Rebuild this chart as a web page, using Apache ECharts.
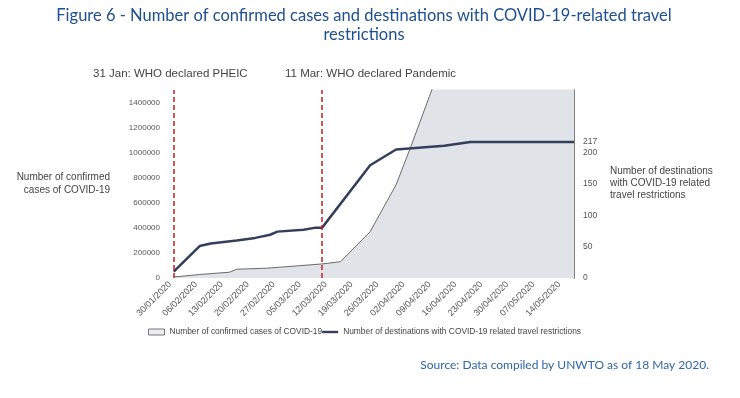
<!DOCTYPE html>
<html>
<head>
<meta charset="utf-8">
<script src="https://cdn.jsdelivr.net/npm/echarts@6/dist/echarts.min.js"></script>
<style>
  html, body { margin: 0; padding: 0; background: #ffffff; }
  #chart { width: 740px; height: 398px; }
</style>
</head>
<body>
<div id="chart"></div>
<script>
// ---- Data ----
const startDate = '2020-01-30';
const endDate = '2020-05-18';

const xTickLabels = ['30/01/2020','06/02/2020','13/02/2020','20/02/2020','27/02/2020','05/03/2020','12/03/2020',
  '19/03/2020','26/03/2020','02/04/2020','09/04/2020','16/04/2020','23/04/2020','30/04/2020','07/05/2020','14/05/2020'];

const caseDates = ['2020-01-31','2020-02-07','2020-02-15','2020-02-17','2020-02-25','2020-03-11','2020-03-16',
  '2020-03-24','2020-03-31','2020-04-04','2020-04-09','2020-04-16','2020-04-23','2020-04-30','2020-05-07','2020-05-14','2020-05-18'];
const caseValues = [8000, 28000, 46000, 70000, 78000, 112000, 130000,
  370000, 744000, 1050000, 1450000, 2000000, 2550000, 3100000, 3700000, 4250000, 4600000];

const destDates = ['2020-01-31','2020-02-07','2020-02-10','2020-02-17','2020-02-22','2020-02-26','2020-02-28',
  '2020-03-06','2020-03-09','2020-03-11','2020-03-24','2020-03-31','2020-04-13','2020-04-20','2020-05-18'];
const destValues = [10, 51, 55, 60, 64, 69, 74, 77, 80, 80, 180, 205, 211, 217, 217];

const leftTicks = [0, 200000, 400000, 600000, 800000, 1000000, 1200000, 1400000];
const rightTicks = [0, 50, 100, 150, 200, 217];

const eventDates = ['2020-01-31', '2020-03-11'];
const eventLabels = ['31 Jan: WHO declared PHEIC', '11 Mar: WHO declared Pandemic'];

const seriesNames = ['Number of confirmed cases of COVID-19', 'Number of destinations with COVID-19 related travel restrictions'];

// ---- helpers ----
const DAY = 86400000;
function isoToDay(s) {
  const p = s.split('-').map(Number);
  const q = startDate.split('-').map(Number);
  return Math.round((Date.UTC(p[0], p[1]-1, p[2]) - Date.UTC(q[0], q[1]-1, q[2])) / DAY);
}
function labelToDay(s) {
  const p = s.split('/');
  return isoToDay(p[2] + '-' + p[1] + '-' + p[0]);
}
const tickDays = xTickLabels.map(labelToDay);
const dayToLabel = {};
tickDays.forEach((d, i) => { dayToLabel[d] = xTickLabels[i]; });

const caseData = caseDates.map((d, i) => [isoToDay(d), caseValues[i]]);
const destData = destDates.map((d, i) => [isoToDay(d), destValues[i]]);

const chart = echarts.init(document.getElementById('chart'));
const axisFont = 'Liberation Sans, Arial, sans-serif';

chart.setOption({
  animation: false,
  backgroundColor: '#ffffff',
  grid: { left: 170, right: 166, top: 90, bottom: 120, containLabel: false },
  legend: {
    left: 148, top: 328, padding: 0,
    itemWidth: 16, itemHeight: 6, itemGap: 0,
    textStyle: { fontFamily: axisFont, fontSize: 8.4, color: '#444' },
    data: [
      { name: seriesNames[0], icon: 'rect', itemStyle: { color: '#eceef1', borderColor: '#777', borderWidth: 1 } },
      { name: seriesNames[1], icon: 'path://M0,0 L20,0 L20,3 L0,3 Z', itemStyle: { color: '#34405a' } }
    ]
  },
  xAxis: {
    type: 'value',
    min: 0,
    max: isoToDay(endDate),
    axisLine: { show: false },
    axisTick: { show: false },
    splitLine: { show: false },
    axisLabel: {
      customValues: tickDays,
      rotate: 45,
      margin: 5,
      fontFamily: axisFont,
      fontSize: 9,
      color: '#555',
      formatter: v => dayToLabel[v] || ''
    }
  },
  yAxis: [
    {
      type: 'value', min: 0, max: 1500000,
      axisLine: { show: false }, axisTick: { show: false }, splitLine: { show: false },
      axisLabel: { customValues: leftTicks, fontFamily: axisFont, fontSize: 8, color: '#555', margin: 10, formatter: v => String(v) }
    },
    {
      type: 'value', min: 0, max: 300, position: 'right',
      axisLine: { show: true, lineStyle: { color: '#555', width: 1.5 } },
      axisTick: { show: false }, splitLine: { show: false },
      axisLabel: {
        customValues: rightTicks, fontFamily: axisFont, fontSize: 8.5, margin: 9,
        color: v => (v === 217 ? '#333' : '#555')
      }
    }
  ],
  series: [
    {
      name: seriesNames[0],
      type: 'line',
      yAxisIndex: 0,
      data: caseData,
      showSymbol: false,
      clip: true,
      lineStyle: { color: '#6a6a6a', width: 1 },
      itemStyle: { color: '#6a6a6a' },
      areaStyle: { color: '#e0e4e9', opacity: 1 },
      z: 2
    },
    {
      name: seriesNames[1],
      type: 'line',
      yAxisIndex: 1,
      data: destData,
      showSymbol: false,
      lineStyle: { color: '#34405a', width: 2.5 },
      itemStyle: { color: '#34405a' },
      z: 3,
      markLine: {
        silent: true,
        symbol: ['none', 'none'],
        label: { show: false },
        lineStyle: { color: '#cc1a22', type: [5, 3], width: 1.5 },
        data: eventDates.map(d => ({ xAxis: isoToDay(d) })),
        z: 5
      }
    }
  ],
  graphic: [
    { type: 'text', x: 364, y: 6, style: { text: 'Figure 6 - Number of confirmed cases and destinations with COVID-19-related travel\nrestrictions', fontFamily: 'Lato, sans-serif', fontSize: 16.5, fill: '#1d4f91', align: 'center', verticalAlign: 'top', lineHeight: 19 } },
    { type: 'text', x: 93, y: 74, style: { text: eventLabels[0], fontFamily: axisFont, fontSize: 11.5, fill: '#444', verticalAlign: 'middle' } },
    { type: 'text', x: 285, y: 74, style: { text: eventLabels[1], fontFamily: axisFont, fontSize: 11.5, fill: '#444', verticalAlign: 'middle' } },
    { type: 'text', x: 110, y: 184, style: { text: 'Number of confirmed\ncases of COVID-19', fontFamily: axisFont, fontSize: 10, fill: '#444', align: 'right', verticalAlign: 'middle', lineHeight: 13 } },
    { type: 'text', x: 610, y: 183, style: { text: 'Number of destinations\nwith COVID-19 related\ntravel restrictions', fontFamily: axisFont, fontSize: 10, fill: '#444', align: 'left', verticalAlign: 'middle', lineHeight: 12 } },
    { type: 'text', x: 709, y: 365, style: { text: 'Source: Data compiled by UNWTO as of 18 May 2020.', fontFamily: 'Lato, sans-serif', fontSize: 12, fill: '#2f66a6', align: 'right', verticalAlign: 'middle' } }
  ]
});
</script>
</body>
</html>
